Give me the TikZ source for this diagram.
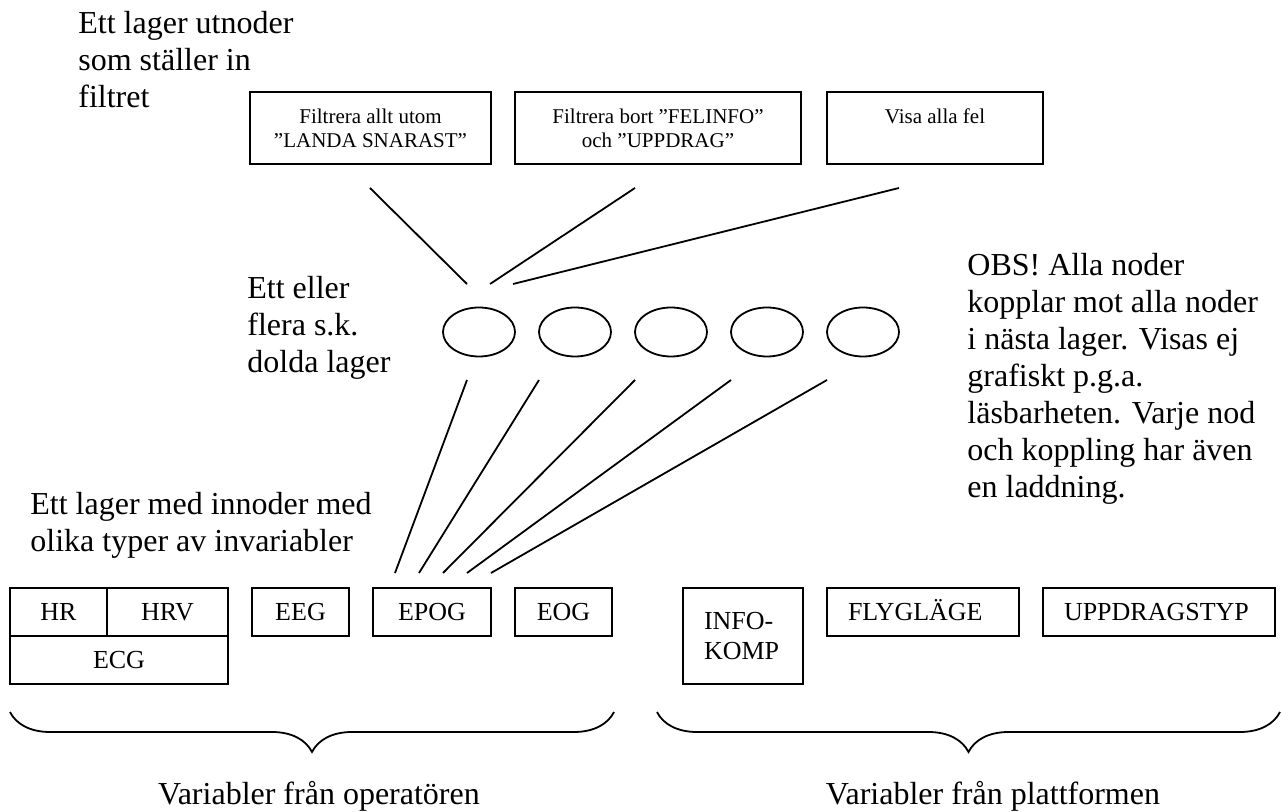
\documentclass[tikz,border=0pt]{standalone}
\usepackage{fontspec}
\setmainfont{Liberation Serif}
\usetikzlibrary{shapes.geometric, positioning, decorations.pathreplacing}

\begin{document}
\begin{tikzpicture}[
    x=0.5pt, y=-0.5pt,
    node distance=12pt and 12pt,
    ruta/.style={rectangle, draw, line width=0.9pt, inner sep=0pt, outer sep=0pt, minimum height=24pt, font=\fontsize{13}{15}\selectfont},
    vruta/.style={ruta, align=left, inner xsep=10.5pt},
    enrad/.style={text height=10.5pt, text depth=1.5pt},
    filterruta/.style={rectangle, draw, line width=0.9pt, align=center, minimum height=36pt, inner sep=0pt, outer sep=0pt, font=\fontsize{10.5}{12}\selectfont},
    dold/.style={ellipse, draw, line width=0.9pt, minimum width=36pt, minimum height=24.5pt, inner sep=0pt, outer sep=0pt},
    rubrik/.style={align=left, inner sep=0pt, anchor=base west, font=\fontsize{16}{18.5}\selectfont},
    linje/.style={line width=0.9pt},
    klammer/.style={decorate, decoration={brace, mirror, amplitude=20pt}, line width=0.9pt}
]
\useasboundingbox (0,0) rectangle (1282,812);

% utlager
\node (ut1) [filterruta, anchor=north west, minimum width=120.5pt] at (250,92) {Filtrera allt utom\\”LANDA SNARAST”};
\node (ut2) [filterruta, right=of ut1, minimum width=143pt] {Filtrera bort ”FELINFO”\\och ”UPPDRAG”};
\node (ut3) [filterruta, right=13pt of ut2, minimum width=108pt] {Visa alla fel\\~};

% dolda lager
\node (d1) [dold] at (479,332) {};
\node (d2) [dold, right=of d1] {};
\node (d3) [dold, right=of d2] {};
\node (d4) [dold, right=of d3] {};
\node (d5) [dold, right=of d4] {};

% innoder
\node (hr) [ruta, enrad, anchor=north west, minimum width=48.5pt] at (10,588) {HR};
\node (hrv) [ruta, enrad, right=0pt of hr, minimum width=60.5pt] {HRV};
\node (ecg) [ruta, enrad, anchor=north west, minimum width=109pt] at (hr.south west) {ECG};
\node (eeg) [ruta, enrad, right=of hrv, minimum width=48.5pt] {EEG};
\node (epog) [ruta, enrad, right=of eeg, minimum width=59pt] {EPOG};
\node (eog) [ruta, enrad, right=of epog, minimum width=48.5pt] {EOG};

\node (info) [vruta, anchor=north west, text width=39pt, minimum height=48pt] at (683,588) {INFO-\\KOMP};
\node (flyg) [vruta, enrad, anchor=north west, text width=75pt] at ([xshift=12pt]info.north east) {FLYGLÄGE};
\node (uppdrag) [vruta, enrad, anchor=north west, text width=95pt] at ([xshift=12pt]flyg.north east) {UPPDRAGSTYP};

% texter
\node (utlager) [rubrik] at (78,108) {Ett lager utnoder\\som ställer in\\filtret};
\node (doldlager) [rubrik] at (247,373) {Ett eller\\flera s.k.\\dolda lager};
\node (inlager) [rubrik] at (30,552) {Ett lager med innoder med\\olika typer av invariabler};
\node (obs) [rubrik] at (967,498) {OBS! Alla noder\\kopplar mot alla noder\\i nästa lager. Visas ej\\grafiskt p.g.a.\\läsbarheten. Varje nod\\och koppling har även\\en laddning.};

% kopplingar (ritas fritt, ror inte noderna)
\coordinate (u1) at (370,188);
\coordinate (u2) at (635,188);
\coordinate (u3) at (899,188);
\coordinate (m1) at (467,284);
\coordinate (m2) at (490,284);
\coordinate (m3) at (513,284);
\draw [linje] (u1) -- (m1);
\draw [linje] (u2) -- (m2);
\draw [linje] (u3) -- (m3);

\coordinate (k1) at (467,380);
\coordinate (k2) at (539,380);
\coordinate (k3) at (635,380);
\coordinate (k4) at (731,380);
\coordinate (k5) at (827,380);
\coordinate (i1) at (395,573);
\coordinate (i2) at (419,573);
\coordinate (i3) at (443,573);
\coordinate (i4) at (467,573);
\coordinate (i5) at (491,573);
\draw [linje] (k1) -- (i1);
\draw [linje] (k2) -- (i2);
\draw [linje] (k3) -- (i3);
\draw [linje] (k4) -- (i4);
\draw [linje] (k5) -- (i5);

% klamrar
\coordinate (kl1a) at (10,712);
\coordinate (kl1b) at (614,712);
\coordinate (kl2a) at (657,712);
\coordinate (kl2b) at (1280,712);
\draw [klammer] (kl1a) -- (kl1b);
\draw [klammer] (kl2a) -- (kl2b);

\node (operator) [font=\fontsize{16}{18.5}\selectfont, inner sep=0pt, anchor=base] at (319,805) {Variabler från operatören};
\node (plattform) [font=\fontsize{16}{18.5}\selectfont, inner sep=0pt, anchor=base] at (993,805) {Variabler från plattformen};

\end{tikzpicture}
\end{document}
